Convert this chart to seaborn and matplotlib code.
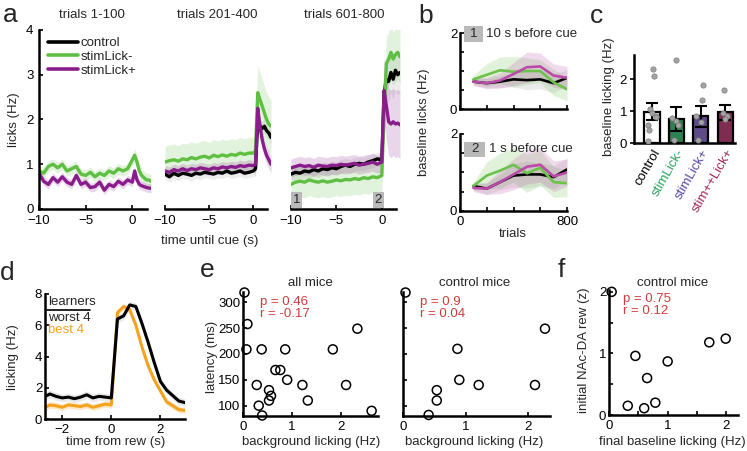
import numpy as np
import pandas as pd
import seaborn as sns
import matplotlib.pyplot as plt
from matplotlib.lines import Line2D
from matplotlib.patches import Rectangle

# ---------------- data ----------------
# panel a: lick rate around the cue at three stages of training
t_a = [-10, -9.5, -9, -8.5, -8, -7.5, -7, -6.5, -6, -5.5, -5, -4.5, -4, -3.5, -3, -2.5,
       -2, -1.5, -1, -0.5, 0, 0.25, 0.5, 0.75, 1.0, 1.25, 1.5, 1.75, 2.0]
a_titles = ['trials 1-100', 'trials 201-400', 'trials 601-800']

green1 = [0.85, 0.8, 0.95, 1.0, 0.92, 1.0, 0.85, 0.9, 0.95, 0.78, 0.75, 0.82, 0.72, 0.8, 0.75,
          0.85, 0.8, 0.9, 0.85, 0.9, 1.1, 1.2, 1.05, 0.85, 0.75, 0.7, 0.65, 0.65, 0.62]
purple1 = [0.8, 0.62, 0.55, 0.7, 0.6, 0.72, 0.6, 0.55, 0.75, 0.55, 0.6, 0.48, 0.5, 0.6, 0.42,
           0.55, 0.5, 0.62, 0.55, 0.65, 0.6, 0.85, 0.65, 0.55, 0.52, 0.5, 0.48, 0.47, 0.46]

green2 = [1.05, 1.08, 1.1, 1.07, 1.12, 1.1, 1.15, 1.12, 1.16, 1.18, 1.14, 1.2, 1.17, 1.21, 1.18,
          1.22, 1.2, 1.25, 1.22, 1.25, 1.25, 1.3, 2.6, 2.45, 2.3, 2.15, 2.0, 1.9, 1.85]
purple2 = [0.85, 0.82, 0.88, 0.85, 0.9, 0.86, 0.9, 0.88, 0.92, 0.9, 0.88, 0.92, 0.9, 0.94, 0.92,
           0.95, 0.93, 0.97, 0.95, 0.98, 0.97, 1.0, 2.25, 1.85, 1.55, 1.35, 1.2, 1.1, 1.0]
black2 = [0.78, 0.72, 0.8, 0.75, 0.8, 0.78, 0.75, 0.8, 0.78, 0.82, 0.8, 0.78, 0.82, 0.8, 0.85,
          0.8, 0.82, 0.85, 0.8, 0.82, 0.85, 0.9, 2.0, 1.85, 1.8, 1.85, 1.75, 1.7, 1.6]

green3 = [0.55, 0.6, 0.62, 0.6, 0.65, 0.62, 0.6, 0.63, 0.6, 0.62, 0.65, 0.63, 0.66, 0.65, 0.68,
          0.66, 0.7, 0.68, 0.72, 0.7, 0.75, 2.2, 3.25, 3.35, 3.5, 3.35, 3.45, 3.5, 3.4]
purple3 = [0.92, 0.95, 0.98, 0.95, 0.97, 0.93, 0.98, 0.96, 0.95, 0.98, 0.97, 1.0, 0.98, 1.0, 1.02,
           0.98, 1.0, 1.02, 1.05, 1.0, 1.05, 2.65, 2.3, 1.95, 1.9, 1.95, 1.9, 1.92, 1.88]
black3 = [0.78, 0.82, 0.8, 0.85, 0.83, 0.88, 0.85, 0.9, 0.88, 0.92, 0.9, 0.95, 0.98, 0.95, 1.0,
          1.02, 1.0, 1.05, 1.08, 1.12, 1.1, 2.6, 2.9, 2.85, 3.05, 2.9, 3.1, 3.0, 3.05]

# SEM band half-widths: (before cue, after cue)
sem_green1, sem_purple1 = [0.12, 0.15], [0.1, 0.1]
sem_green2, sem_purple2, sem_black2 = [0.35, 0.6], [0.12, 0.2], [0.12, 0.15]
sem_green3, sem_purple3, sem_black3 = [0.35, 0.6], [0.2, 0.75], [0.15, 0.45]

# panel b: baseline licks over training
trials_b = [100, 200, 300, 400, 500, 600, 700, 800]
green_b1 = [0.78, 0.9, 1.02, 0.98, 1.0, 1.0, 0.7, 0.52]
purple_b1 = [0.72, 0.68, 0.75, 0.92, 1.1, 1.12, 0.88, 0.82]
black_b1 = [0.72, 0.68, 0.72, 0.78, 0.76, 0.78, 0.68, 0.82]
sem_green_b1 = [0.1, 0.3, 0.35, 0.4, 0.35, 0.3, 0.35, 0.3]
sem_purple_b1 = [0.1, 0.15, 0.2, 0.3, 0.4, 0.35, 0.3, 0.3]
sem_black_b1 = [0.1, 0.12, 0.15, 0.2, 0.25, 0.25, 0.25, 0.2]
green_b2 = [0.65, 0.92, 1.05, 1.2, 0.98, 1.12, 0.75, 0.72]
purple_b2 = [0.6, 0.58, 0.75, 0.95, 1.15, 1.2, 0.9, 1.0]
black_b2 = [0.65, 0.58, 0.75, 0.92, 0.95, 0.95, 0.88, 1.08]
sem_green_b2 = [0.1, 0.35, 0.45, 0.45, 0.5, 0.45, 0.4, 0.35]
sem_purple_b2 = [0.1, 0.15, 0.3, 0.4, 0.45, 0.45, 0.4, 0.35]
sem_black_b2 = [0.1, 0.15, 0.2, 0.3, 0.35, 0.3, 0.3, 0.3]

# panel c: baseline licking per group
c_groups = ['control', 'stimLick-', 'stimLick+', 'stim++Lick+']
c_means = [0.97, 0.76, 0.83, 0.96]
c_low = [0.72, 0.38, 0.5, 0.72]
c_high = [1.24, 1.14, 1.17, 1.2]
c_pts_control = [2.32, 2.1, 1.05, 0.93, 0.85, 0.8, 0.55, 0.42, 0.05]
c_pts_stimlick_minus = [2.6, 0.78, 0.7, 0.55, 0.1]
c_pts_stimlick_plus = [1.82, 1.33, 0.83, 0.65, 0.1]
c_pts_stim_lick_plus = [1.67, 0.95, 0.85, 0.75]

# panel d: licking around reward, worst vs best learners
t_d = [-2.75, -2.5, -2.25, -2, -1.75, -1.5, -1.25, -1, -0.75, -0.5, -0.25, 0,
       0.25, 0.5, 0.75, 1.0, 1.25, 1.5, 1.75, 2.0, 2.25, 2.5, 2.75, 3.0]
worst_d = [1.4, 1.6, 1.45, 1.35, 1.4, 1.3, 1.4, 1.55, 1.35, 1.45, 1.4, 1.35,
           6.4, 6.6, 7.3, 7.2, 6.1, 4.9, 3.6, 2.4, 1.85, 1.5, 1.15, 1.05]
best_d = [0.7, 0.9, 0.85, 0.75, 0.9, 0.85, 0.8, 0.9, 0.75, 0.85, 0.95, 0.9,
          6.8, 7.2, 7.0, 6.0, 4.6, 3.4, 2.5, 1.8, 1.1, 0.85, 0.6, 0.55]
sem_worst_d = 0.25
sem_best_d = 0.2

# panel e: latency vs background licking
e_all_x = [0.03, 0.09, 0.07, 0.38, 0.86, 1.83, 2.33, 0.66, 0.76, 0.9,
           0.28, 1.21, 2.1, 0.53, 0.57, 0.53, 1.32, 0.32, 0.39, 2.62]
e_all_y = [319, 258, 209, 209, 209, 209, 249, 169, 169, 150,
           140, 140, 140, 130, 119, 110, 110, 100, 81, 90]
e_ctl_x = [0.04, 0.41, 0.54, 0.54, 0.87, 0.9, 1.21, 2.11, 2.27]
e_ctl_y = [319, 82, 130, 110, 210, 150, 140, 140, 249]

# panel f: initial NAc-DA reward response vs final baseline licking
f_x = [0.045, 0.45, 1.0, 1.71, 1.99, 0.65, 0.32, 0.6, 0.79]
f_y = [2.0, 0.96, 0.87, 1.18, 1.24, 0.6, 0.15, 0.11, 0.2]

# ---------------- style ----------------
GREEN = '#5fbf43'
PURPLE = '#8a1d8c'
GREEN_B = '#6cc24a'
PURPLE_B = '#bb4aa8'
ORANGE = '#f5a21e'
RED = '#d23b3b'
GREY_BOX = '#b9b9b9'
c_fill = ['white', '#1e9150', '#5b3f96', '#8c1f4f']
c_text = ['black', '#27a35c', '#5a46a2', '#a3295c']

sns.set_theme(style='ticks')
plt.rcParams['font.family'] = ['Liberation Sans', 'DejaVu Sans']
FS = 9.5
plt.rcParams['font.size'] = FS

W, H = 747, 451
fig = plt.figure(figsize=(W / 100, H / 100), dpi=100)


def px_ax(x0, y0, x1, y1):
    # box in pixels (left, top, right, bottom) -> axes
    return fig.add_axes([x0 / W, 1 - y1 / H, (x1 - x0) / W, (y1 - y0) / H])


def px_text(x, y, s, **kw):
    kw.setdefault('fontsize', FS)
    kw.setdefault('ha', 'center')
    kw.setdefault('va', 'center')
    return fig.text(x / W, 1 - y / H, s, **kw)


def style(ax, tick_dir='in'):
    sns.despine(ax=ax)
    for side in ['left', 'bottom']:
        ax.spines[side].set_linewidth(1.8)
        ax.spines[side].set_color('black')
    ax.tick_params(direction=tick_dir, length=3, width=1.2, labelsize=FS, pad=2, colors='black')
    ax.tick_params(axis='x', pad=3.5)
    ax.set_facecolor('none')
    ax.set_xlabel('')
    ax.set_ylabel('')


def trace(ax, x, y, sem, color, lw, alpha=0.18, band_color=None):
    y = np.asarray(y, dtype=float)
    ax.fill_between(x, y - sem, y + sem, color=band_color or color, alpha=alpha, lw=0)
    sns.lineplot(x=x, y=y, ax=ax, color=color, lw=lw)


# ---------------- panel a ----------------
t_arr = np.asarray(t_a)
a_boxes = [(39, 151), (165, 271), (291, 400)]
a_series = [
    [(green1, sem_green1, GREEN), (purple1, sem_purple1, PURPLE)],
    [(black2, sem_black2, 'black'), (green2, sem_green2, GREEN), (purple2, sem_purple2, PURPLE)],
    [(black3, sem_black3, 'black'), (green3, sem_green3, GREEN), (purple3, sem_purple3, PURPLE)],
]
a_title_x = [92, 217, 344]
for i, (x0, x1) in enumerate(a_boxes):
    ax = px_ax(x0, 30, x1, 209)
    for vals, sem, col in a_series[i]:
        band = np.where(t_arr <= 0, sem[0], sem[1])
        trace(ax, t_a, vals, band, col, 2.4,
              band_color='#999999' if col == 'black' else None)
    ax.set_xlim(-10, 2)
    ax.set_ylim(0, 4)
    ax.set_xticks([-10, -5, 0])
    style(ax)
    ax.spines['bottom'].set_bounds(-10, 1.6)
    if i == 0:
        ax.set_yticks([0, 1, 2, 3, 4])
        ax.tick_params(axis='y', pad=4)
        ax.tick_params(axis='x', pad=4.5)
        handles = [Line2D([0], [0], color=c, lw=2.6) for c in ['black', GREEN, PURPLE]]
        ax.legend(handles, ['control', 'stimLick-', 'stimLick+'], loc='upper left',
                  bbox_to_anchor=(0.08, 0.96), frameon=False, handlelength=2.3,
                  handletextpad=0.2, labelspacing=0.1, fontsize=FS, borderaxespad=0, borderpad=0)
    else:
        ax.spines['left'].set_visible(False)
        ax.set_yticks([])
        ax.tick_params(axis='x', pad=4.5)
    if i == 2:
        for start, lab in [(-10, '1'), (-1, '2')]:
            ax.add_patch(Rectangle((start, 0.02), 1.25, 0.36, fc=GREY_BOX, ec='none', zorder=5))
            ax.text(start + 0.62, 0.2, lab, ha='center', va='center', fontsize=FS, zorder=6)
    px_text(a_title_x[i], 15, a_titles[i])

px_text(14, 120, 'licks (Hz)', rotation=90)
px_text(210, 241, 'time until cue (s)')

# ---------------- panel b ----------------
b_rows = [
    (33, 109, [(black_b1, sem_black_b1, 'black'), (green_b1, sem_green_b1, GREEN_B),
               (purple_b1, sem_purple_b1, PURPLE_B)], '1', '10 s before cue', (0.88, 1.09)),
    (134, 211, [(black_b2, sem_black_b2, 'black'), (green_b2, sem_green_b2, GREEN_B),
                (purple_b2, sem_purple_b2, PURPLE_B)], '2', '1 s before cue', (0.70, 0.90)),
]
for j, (y0, y1, series, box_lab, box_txt, (by0, by1)) in enumerate(b_rows):
    ax = px_ax(460, y0, 567, y1)
    for vals, sem, col in series:
        trace(ax, trials_b, vals, np.asarray(sem), col, 1.9, alpha=0.2,
              band_color='#999999' if col == 'black' else None)
    ax.set_xlim(0, 800)
    ax.set_ylim(0, 2)
    style(ax)
    ax.set_yticks([0, 0.5, 1, 1.5, 2])
    ax.set_yticklabels(['0', '', '', '', '2'])
    ax.set_xticks([0, 200, 400, 600, 800])
    if j == 0:
        ax.set_xticklabels([])
    else:
        ax.set_xticklabels(['0', '', '', '', '800'])
    bw = 0.18 if j == 0 else 0.2
    ax.add_patch(Rectangle((0.037, by0), bw, by1 - by0, transform=ax.transAxes,
                           fc=GREY_BOX, ec='none', clip_on=False, zorder=5))
    ax.text(0.037 + bw / 2, (by0 + by1) / 2, box_lab, transform=ax.transAxes,
            ha='center', va='center', fontsize=FS, zorder=6)
    ax.text(0.037 + bw + 0.03, (by0 + by1) / 2, box_txt, transform=ax.transAxes,
            ha='left', va='center', fontsize=FS, zorder=6)

px_text(424, 122, 'baseline licks (Hz)', rotation=90)
px_text(513, 234, 'trials')

# ---------------- panel c ----------------
ax = px_ax(634, 55, 735, 143)
sns.barplot(x=c_groups, y=c_means, hue=c_groups, palette=c_fill, order=c_groups,
            width=0.62, edgecolor='black', linewidth=1.6, errorbar=None, legend=False, ax=ax)
means = np.asarray(c_means)
ax.errorbar(range(4), means, yerr=[means - np.asarray(c_low), np.asarray(c_high) - means],
            fmt='none', ecolor='black', elinewidth=1.5, capsize=4, capthick=1.5, zorder=4)
df_c = pd.DataFrame({
    'group': ['control'] * len(c_pts_control) + ['stimLick-'] * len(c_pts_stimlick_minus)
             + ['stimLick+'] * len(c_pts_stimlick_plus) + ['stim++Lick+'] * len(c_pts_stim_lick_plus),
    'value': c_pts_control + c_pts_stimlick_minus + c_pts_stimlick_plus + c_pts_stim_lick_plus,
})
np.random.seed(3)
sns.stripplot(data=df_c, x='group', y='value', order=c_groups, color='#a4a4a4', size=3.8,
              jitter=0.2, linewidth=0.5, edgecolor='#7a7a7a', ax=ax, zorder=5)
ax.set_xlim(-0.74, 3.4)
ax.set_ylim(0, 2.75)
style(ax, tick_dir='out')
ax.set_yticks([0, 1, 2])
ax.tick_params(axis='x', length=0, pad=3)
ax.set_xticks(range(4))
ax.set_xticklabels(c_groups, rotation=60, ha='right', rotation_mode='anchor')
for lab, col in zip(ax.get_xticklabels(), c_text):
    lab.set_color(col)
px_text(609, 97, 'baseline licking (Hz)', rotation=90)

# ---------------- panel d ----------------
ax = px_ax(45, 294, 185, 419)
trace(ax, t_d, best_d, sem_best_d, ORANGE, 2.2, alpha=0.25)
trace(ax, t_d, worst_d, sem_worst_d, 'black', 2.2, alpha=0.2, band_color='#999999')
ax.set_xlim(-2.7, 3)
ax.set_ylim(0, 8)
style(ax)
ax.set_xticks([-2, 0, 2])
ax.set_yticks([0, 2, 4, 6, 8])
ax.text(0.02, 0.936, 'learners', transform=ax.transAxes, ha='left', va='center', fontsize=FS)
ax.plot([0.015, 0.32], [0.872, 0.872], transform=ax.transAxes, color='black', lw=1.2)
ax.text(0.02, 0.808, 'worst 4', transform=ax.transAxes, ha='left', va='center', fontsize=FS)
ax.text(0.02, 0.712, 'best 4', transform=ax.transAxes, ha='left', va='center',
        fontsize=FS, color=ORANGE)
px_text(13, 357, 'licking (Hz)', rotation=90)
px_text(116, 442, 'time from rew (s)')


# ---------------- panels e, f ----------------
def scatter_panel(ax, x, y):
    sns.scatterplot(x=x, y=y, ax=ax, marker='o', s=42, facecolor='none',
                    edgecolor='black', linewidth=1.1)
    ax.collections[-1].set_clip_on(False)
    ax.collections[-1].set_zorder(5)


ax = px_ax(243, 292, 378, 416)
scatter_panel(ax, e_all_x, e_all_y)
ax.set_xlim(0, 2.75)
ax.set_ylim(80, 320)
style(ax)
ax.set_xticks([0, 1, 2])
ax.set_yticks([100, 150, 200, 250, 300])
ax.text(0.126, 0.965, 'p = 0.46\nr = -0.17', transform=ax.transAxes, ha='left', va='top',
        color=RED, fontsize=FS, linespacing=0.95)

ax = px_ax(403, 292, 550, 416)
scatter_panel(ax, e_ctl_x, e_ctl_y)
ax.set_xlim(0, 2.35)
ax.set_ylim(80, 320)
style(ax)
ax.set_xticks([0, 1, 2])
ax.set_yticks([100, 150, 200, 250, 300])
ax.set_yticklabels([])
ax.text(0.116, 0.965, 'p = 0.9\nr = 0.04', transform=ax.transAxes, ha='left', va='top',
        color=RED, fontsize=FS, linespacing=0.95)

px_text(212, 357, 'latency (ms)', rotation=90)
px_text(311, 442, 'background licking (Hz)')
px_text(474, 442, 'background licking (Hz)')
px_text(310, 283, 'all mice')
px_text(475, 283, 'control mice')

ax = px_ax(609, 290, 738, 415)
scatter_panel(ax, f_x, f_y)
ax.set_xlim(0, 2.2)
ax.set_ylim(0, 2.03)
style(ax)
ax.set_xticks([0, 0.5, 1, 1.5, 2])
ax.set_xticklabels(['0', '', '1', '', '2'])
ax.set_yticks([0, 0.5, 1, 1.5, 2])
ax.set_yticklabels(['0', '', '1', '', '2'])
ax.text(0.11, 0.975, 'p = 0.75\nr = 0.12', transform=ax.transAxes, ha='left', va='top',
        color=RED, fontsize=FS, linespacing=0.95)
px_text(584, 350, 'initial NAc-DA rew (z)', rotation=90)
px_text(672, 442, 'final baseline licking (Hz)')
px_text(673, 283, 'control mice')

# ---------------- panel letters ----------------
for x, y, s in [(3, 22, 'a'), (418, 23, 'b'), (590, 23, 'c'),
                (0, 280, 'd'), (200, 277, 'e'), (558, 277, 'f')]:
    px_text(x, y, s, fontsize=19, ha='left', va='baseline')

fig.savefig('out.png', dpi=100)
